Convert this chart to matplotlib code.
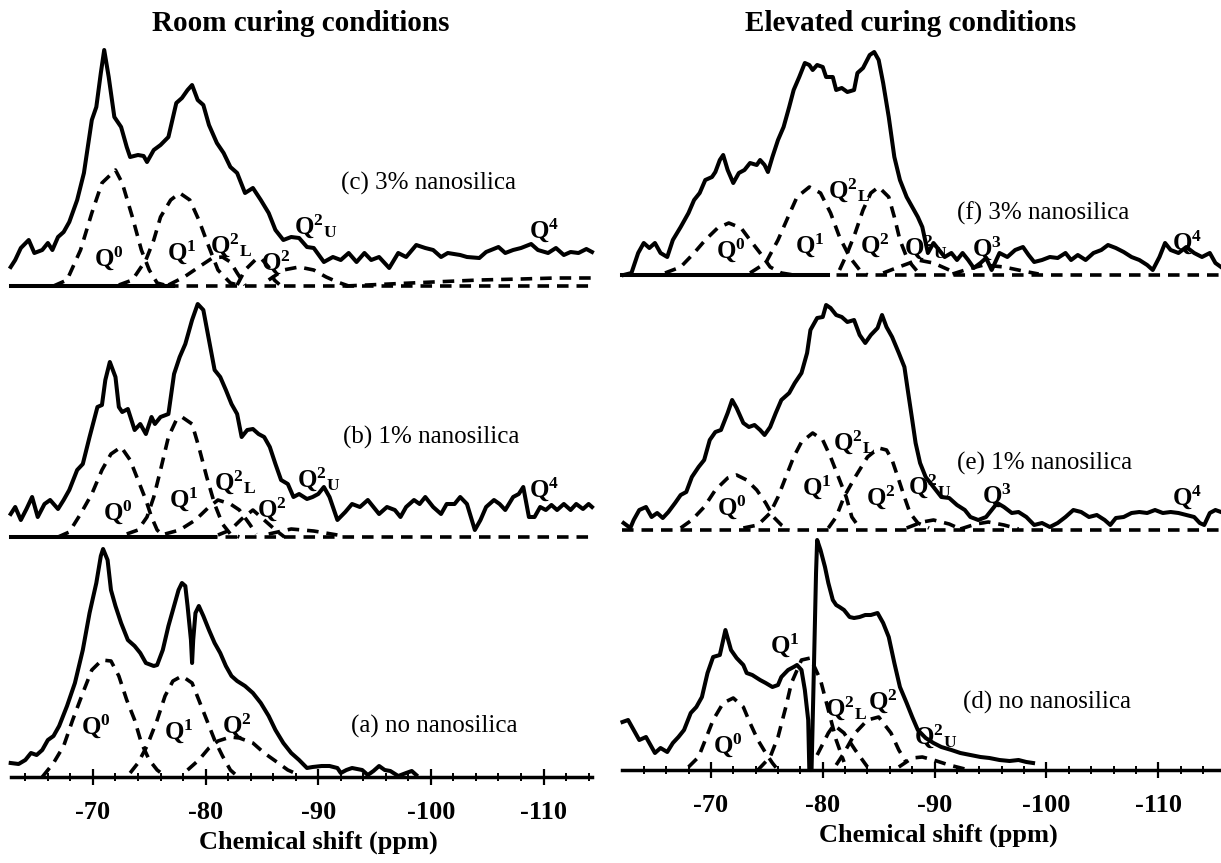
import matplotlib
matplotlib.use("Agg")
from matplotlib import pyplot as plt
from matplotlib.ticker import MultipleLocator

plt.rcParams['font.family'] = ['Liberation Serif', 'DejaVu Serif']
plt.rcParams['mathtext.fontset'] = 'custom'
plt.rcParams['mathtext.rm'] = 'Liberation Serif'
plt.rcParams['mathtext.bf'] = 'Liberation Serif:bold'
plt.rcParams['mathtext.it'] = 'Liberation Serif:italic'
plt.rcParams['axes.unicode_minus'] = False

# ---------------- room curing ----------------
# (c) 3% nanosilica
c_ppm = [-62.7, -63.1, -63.6, -64.3, -64.8, -65.5, -66.0, -66.4, -66.9, -67.4, -67.9, -68.6, -69.2, -69.9,
         -70.3, -70.7, -71.0, -71.4, -71.9, -72.5, -73.0, -73.3, -74.0, -74.5, -74.8, -75.4, -76.0, -76.7,
         -77.4, -77.9, -78.4, -78.8, -79.3, -79.8, -80.3, -81.0, -81.6, -82.2, -82.8, -83.5, -84.2, -84.9,
         -85.6, -86.2, -86.9, -87.6, -88.3, -89.0, -89.6, -90.5, -91.3, -92.0, -92.7, -93.4, -94.1, -94.7,
         -95.4, -96.3, -97.1, -97.8, -98.7, -99.5, -100.2, -100.9, -101.5, -102.6, -103.2, -104.3, -104.9,
         -106.0, -106.6, -107.3, -108.0, -108.9, -109.5, -110.4, -111.1, -111.8, -112.4, -113.1, -113.8, -114.3]
c_int = [19, 26, 38, 46, 33, 36, 43, 36, 49, 54, 64, 86, 113, 166,
         179, 213, 236, 209, 169, 159, 139, 129, 131, 130, 124, 136, 141, 149,
         183, 188, 196, 201, 186, 181, 161, 143, 133, 119, 113, 93, 98, 86,
         73, 56, 46, 49, 48, 39, 38, 24, 29, 26, 33, 24, 33, 26,
         29, 18, 33, 29, 41, 38, 36, 29, 33, 31, 29, 28, 34,
         39, 33, 36, 38, 42, 36, 33, 38, 31, 34, 33, 37, 34]
c_q0 = ([-66.5, -67.7, -68.9, -69.9, -70.8, -72.0, -72.6, -73.5, -74.3, -75.0, -75.7, -76.7],
        [0, 6, 36, 73, 103, 116, 103, 69, 36, 16, 3, 0])
c_q1 = ([-72.3, -73.5, -74.7, -75.4, -76.0, -76.9, -77.7, -78.6, -79.4, -80.3, -81.1, -82.2, -83.2],
        [1, 6, 26, 46, 69, 86, 93, 86, 66, 39, 16, 3, 0])
c_q2l = ([-76.7, -78.1, -79.4, -80.6, -81.5, -82.2, -82.8, -83.5],
         [1, 9, 19, 28, 29, 24, 13, 1])
c_q2 = ([-82.8, -83.5, -84.4, -84.9, -85.6, -86.1, -86.7],
        [1, 16, 26, 28, 19, 6, 0])
c_q2u = ([-85.6, -86.9, -88.3, -89.6, -90.7, -91.7, -92.7],
         [6, 16, 19, 16, 9, 4, 0])
c_q4 = ([-92.4, -96.3, -100.2, -104.3, -108.0, -111.1, -114.3],
        [0, 2, 4, 6, 7, 8, 8])

# (b) 1% nanosilica
b_ppm = [-62.7, -63.1, -63.6, -64.1, -64.6, -65.1, -65.7, -66.2, -66.9, -67.4, -67.9, -68.6, -69.1, -69.7,
         -70.4, -70.8, -71.1, -71.5, -72.0, -72.3, -72.6, -73.1, -73.7, -74.2, -74.7, -75.2, -75.5, -76.0,
         -76.7, -77.2, -77.7, -78.2, -78.8, -79.3, -79.8, -80.3, -80.8, -81.3, -81.8, -82.3, -82.8, -83.2,
         -83.7, -84.2, -84.7, -85.2, -85.7, -86.2, -86.7, -87.3, -87.8, -88.3, -89.0, -89.5, -90.0, -90.5,
         -91.0, -91.7, -92.4, -93.0, -93.7, -94.4, -94.9, -95.4, -96.1, -96.8, -97.3, -97.8, -98.5, -99.0,
         -99.5, -100.2, -100.9, -101.4, -102.1, -102.6, -103.2, -103.9, -104.4, -104.9, -105.6, -106.1,
         -106.6, -107.3, -107.8, -108.2, -108.7, -109.2, -109.7, -110.2, -110.7, -111.2, -111.8, -112.4,
         -112.9, -113.5, -114.0, -114.3]
b_int = [23, 30, 17, 28, 40, 20, 33, 37, 28, 37, 47, 67, 73, 100,
         130, 132, 157, 175, 160, 130, 125, 128, 107, 113, 103, 120, 113, 120,
         123, 163, 180, 193, 217, 233, 227, 197, 167, 160, 147, 133, 123, 100,
         107, 108, 103, 100, 90, 73, 57, 53, 40, 43, 38, 40, 43, 50,
         40, 17, 25, 33, 30, 37, 30, 23, 30, 27, 20, 30, 37, 33,
         40, 30, 23, 33, 33, 40, 33, 7, 17, 30, 37, 33,
         27, 40, 43, 50, 20, 20, 30, 27, 32, 27, 33, 27,
         33, 28, 33, 30]
b_q0 = ([-66.9, -67.9, -68.9, -69.9, -70.8, -71.6, -72.5, -73.3, -74.0, -74.7, -75.2, -75.7, -76.4],
        [0, 5, 23, 43, 67, 83, 90, 77, 57, 37, 20, 7, 0])
b_q1 = ([-73.0, -74.0, -74.8, -75.4, -76.0, -76.7, -77.4, -77.9, -78.8, -79.4, -80.1, -80.8, -81.5, -82.2, -83.0],
        [3, 7, 20, 40, 67, 100, 117, 120, 113, 90, 60, 33, 13, 3, 0])
b_q2l = ([-76.4, -77.7, -79.1, -80.3, -81.1, -82.2, -83.0, -83.9, -84.5],
         [3, 7, 17, 30, 37, 33, 27, 13, 3])
b_q2 = ([-81.1, -82.2, -83.2, -84.2, -85.2, -86.2, -87.0],
        [2, 7, 18, 27, 17, 7, 0])
b_q2u = ([-85.6, -87.6, -89.6, -91.7],
         [3, 8, 6, 2])

# (a) no nanosilica
a_ppm = [-62.7, -63.4, -64.0, -64.5, -65.0, -65.5, -66.0, -66.5, -67.0, -67.7, -68.4, -69.1, -69.7, -70.3,
         -70.7, -70.9, -71.3, -71.6, -72.0, -72.5, -73.1, -73.7, -74.2, -74.7, -75.4, -75.7, -76.2, -76.7,
         -77.2, -77.6, -77.9, -78.2, -78.4, -78.7, -78.8, -78.9, -79.1, -79.4, -79.8, -80.3, -80.8, -81.3,
         -81.8, -82.3, -82.8, -83.5, -84.2, -84.9, -85.6, -86.2, -86.9, -87.6, -88.3, -89.0, -89.5, -90.3,
         -91.0, -91.7, -92.0, -92.5, -93.0, -93.9, -94.4, -94.9, -95.4, -95.9, -96.4, -97.1, -97.8, -98.3,
         -98.7]
a_int = [14, 13, 17, 24, 22, 27, 37, 41, 51, 71, 94, 127, 164, 194,
         221, 228, 217, 187, 171, 154, 137, 131, 124, 114, 111, 112, 127, 151,
         171, 187, 194, 191, 171, 137, 114, 137, 164, 171, 161, 147, 134, 124,
         111, 101, 96, 91, 84, 74, 61, 47, 34, 24, 17, 9, 10, 11,
         11, 9, 4, 7, 9, 7, 2, 6, 11, 7, 6, 1, 4, 6,
         2]
a_q0 = ([-65.5, -66.5, -67.4, -68.2, -69.1, -69.9, -70.8, -71.6, -72.3, -73.0, -73.7, -74.3, -75.0, -75.7, -76.4],
        [0, 14, 31, 57, 84, 107, 117, 116, 101, 77, 57, 34, 17, 7, 1])
a_q1 = ([-73.3, -74.0, -74.8, -75.7, -76.4, -77.1, -77.9, -78.8, -79.4, -80.1, -80.8, -81.5, -82.2, -82.8],
        [4, 14, 31, 57, 81, 96, 101, 94, 77, 57, 37, 21, 7, 1])
a_q2 = ([-78.4, -79.4, -80.3, -81.1, -82.2, -83.0, -84.2, -85.2, -86.2, -87.3, -88.3],
        [7, 17, 29, 36, 40, 39, 34, 24, 16, 7, 2])

# ---------------- elevated curing ----------------
# (f) 3% nanosilica
f_ppm = [-62.2, -62.9, -63.5, -64.0, -64.5, -65.0, -65.5, -66.1, -66.6, -67.3, -68.0, -68.5, -69.0, -69.5,
         -70.1, -70.4, -70.8, -71.1, -71.5, -72.0, -72.5, -73.0, -73.5, -74.1, -74.4, -74.8, -75.1, -75.5,
         -76.0, -76.5, -77.0, -77.4, -77.9, -78.4, -78.8, -79.1, -79.5, -80.0, -80.3, -80.9, -81.2, -81.7,
         -82.2, -82.8, -83.1, -83.6, -84.2, -84.6, -85.0, -85.4, -85.9, -86.4, -86.9, -87.5, -88.0, -88.5,
         -88.9, -89.4, -89.9, -90.4, -90.9, -91.5, -92.0, -92.5, -93.0, -93.5, -94.1, -94.6, -95.1, -95.8,
         -96.5, -97.2, -97.9, -98.4, -98.9, -99.6, -100.3, -101.0, -101.7, -102.2, -102.8, -103.5, -104.2,
         -104.9, -105.5, -106.2, -106.9, -107.6, -108.3, -109.0, -109.5, -110.1, -110.6, -111.1, -111.8,
         -112.5, -113.2, -113.9, -114.6, -115.1, -115.6]
f_int = [0, 2, 22, 32, 27, 32, 22, 18, 35, 48, 62, 75, 82, 95,
         98, 103, 115, 120, 105, 92, 102, 105, 112, 110, 115, 110, 103, 118,
         135, 148, 168, 185, 198, 212, 210, 205, 210, 208, 198, 198, 185, 187,
         183, 185, 202, 207, 220, 223, 215, 192, 158, 118, 95, 78, 68, 58,
         48, 22, 32, 25, 18, 22, 15, 22, 15, 7, 12, 17, 5, 22,
         18, 25, 28, 20, 13, 15, 18, 17, 22, 15, 20, 15, 22,
         25, 30, 27, 23, 18, 15, 10, 5, 18, 32, 25, 22,
         28, 22, 18, 22, 12, 8]
f_q0 = ([-65.9, -67.3, -68.5, -69.5, -70.6, -71.6, -72.7, -73.5, -74.4, -75.3, -76.3, -77.4],
        [2, 8, 22, 35, 47, 52, 47, 35, 22, 8, 2, 0])
f_q1 = ([-73.5, -74.9, -76.0, -76.9, -77.7, -78.8, -79.8, -80.7, -81.5, -82.4, -83.3, -84.0],
        [2, 12, 35, 58, 78, 88, 82, 62, 38, 18, 5, 0])
f_q2 = ([-81.5, -82.2, -82.9, -83.6, -84.3, -85.0, -85.9, -86.4, -86.9, -87.6, -88.5],
        [5, 22, 42, 65, 82, 88, 78, 58, 35, 15, 3])
f_q2u = ([-85.4, -86.8, -88.5, -89.9, -91.3, -92.3],
         [2, 8, 15, 12, 5, 1])
f_q3 = ([-91.6, -93.0, -94.4, -96.2, -97.9, -99.3],
        [1, 6, 10, 8, 4, 1])

# (e) 1% nanosilica
e_ppm = [-62.2, -62.8, -63.1, -63.6, -64.2, -64.7, -65.2, -65.7, -66.2, -66.8, -67.3, -67.8, -68.3, -68.9,
         -69.4, -69.9, -70.4, -70.9, -71.5, -71.9, -72.3, -72.9, -73.4, -73.9, -74.4, -74.8, -75.3, -75.8,
         -76.3, -77.0, -77.5, -78.1, -78.6, -78.9, -79.5, -80.0, -80.3, -80.7, -81.2, -81.7, -82.2, -82.8,
         -83.3, -83.8, -84.3, -84.9, -85.3, -85.7, -86.2, -86.8, -87.3, -87.6, -88.0, -88.3, -88.7, -89.2,
         -89.9, -90.6, -91.3, -92.0, -92.7, -93.2, -93.9, -94.6, -95.1, -95.6, -96.2, -96.9, -97.5, -98.2,
         -98.9, -99.6, -100.3, -101.0, -101.7, -102.4, -103.1, -103.8, -104.5, -105.2, -105.7, -106.2,
         -106.9, -107.6, -108.3, -109.0, -109.7, -110.4, -111.1, -111.8, -112.5, -113.2, -113.7, -114.1,
         -114.6, -115.1, -115.6]
e_int = [7, 2, 10, 20, 23, 13, 17, 12, 18, 27, 35, 38, 53, 63,
         70, 90, 98, 100, 117, 130, 122, 107, 103, 105, 100, 95, 103, 117,
         130, 137, 147, 157, 177, 200, 212, 213, 225, 222, 215, 213, 208, 210,
         195, 187, 195, 202, 215, 203, 193, 177, 163, 140, 110, 87, 67, 53,
         43, 33, 32, 25, 20, 13, 10, 13, 20, 27, 23, 17, 18, 13,
         5, 7, 3, 7, 13, 20, 18, 13, 15, 10, 5, 12,
         13, 17, 18, 17, 20, 17, 18, 17, 15, 13, 7, 5,
         17, 20, 18]
e_q0 = ([-67.3, -68.3, -69.4, -70.4, -71.5, -72.3, -73.2, -74.1, -74.9, -75.6, -76.3, -77.0],
        [2, 10, 23, 40, 52, 55, 50, 40, 27, 13, 5, 0])
e_q1 = ([-72.9, -74.2, -75.3, -76.0, -76.7, -77.4, -78.1, -79.1, -80.0, -80.7, -81.4, -82.1, -82.6, -83.3],
        [2, 5, 17, 33, 53, 73, 88, 97, 90, 73, 53, 33, 13, 2])
e_q2 = ([-80.5, -81.2, -81.9, -82.9, -84.0, -85.0, -85.7, -86.2, -86.8, -87.3, -87.8, -88.5, -89.5],
        [2, 13, 33, 53, 73, 82, 80, 70, 50, 33, 17, 7, 2])
e_q2u = ([-87.5, -88.9, -89.9, -91.3, -92.3],
         [2, 8, 10, 6, 1])
e_q3 = ([-92.3, -93.7, -94.8, -96.2, -97.5],
        [1, 6, 8, 5, 1])

# (d) no nanosilica
d_ppm = [-62.1, -62.6, -63.1, -63.6, -64.2, -64.7, -65.0, -65.5, -66.1, -66.6, -67.1, -67.6, -68.2, -68.7,
         -69.2, -69.7, -70.2, -70.8, -71.3, -71.8, -72.3, -72.9, -73.2, -73.7, -74.4, -74.9, -75.5, -76.0,
         -76.3, -76.9, -77.4, -77.7, -78.1, -78.4, -78.7, -78.8, -79.0, -79.2, -79.4, -79.5, -79.8, -80.2,
         -80.5, -80.9, -81.2, -81.5, -81.9, -82.4, -82.8, -83.3, -83.8, -84.3, -84.9, -85.4, -85.9, -86.4,
         -86.9, -87.5, -88.0, -88.5, -89.2, -89.9, -90.6, -91.5, -92.3, -93.2, -94.1, -94.9, -95.8, -96.7,
         -97.5, -98.2, -98.8]
d_int = [48, 50, 40, 30, 33, 23, 17, 22, 18, 27, 33, 40, 57, 63,
         73, 97, 113, 115, 140, 120, 112, 105, 97, 95, 90, 87, 83, 85,
         93, 100, 103, 105, 100, 80, 50, 0, 0, 97, 197, 230, 220, 203,
         187, 170, 165, 163, 160, 153, 152, 153, 155, 155, 157, 147, 133, 107,
         83, 67, 53, 40, 32, 27, 23, 20, 17, 15, 13, 12, 10, 9,
         10, 8, 7]
d_q0 = ([-68.0, -68.9, -69.5, -70.2, -71.1, -72.0, -72.9, -73.5, -74.2, -74.9, -75.5, -76.0],
        [3, 13, 30, 50, 67, 72, 63, 47, 30, 17, 7, 0])
d_q1 = ([-74.2, -75.3, -76.0, -76.7, -77.2, -78.1, -78.9, -79.8, -80.5, -81.2, -81.9],
        [0, 13, 33, 63, 87, 110, 112, 90, 60, 30, 8])
d_q2l = ([-79.5, -80.5, -81.0, -81.9, -82.9, -84.0],
         [15, 37, 45, 37, 20, 3])
d_q2 = ([-81.2, -81.9, -82.9, -84.0, -85.0, -86.1, -86.8, -87.5],
        [5, 17, 37, 50, 53, 37, 20, 7])
d_q2u = ([-86.8, -88.0, -88.9, -89.9, -91.3, -92.7],
         [3, 12, 13, 10, 5, 1])

Q0 = r'$\mathbf{Q^{0}}$'
Q1 = r'$\mathbf{Q^{1}}$'
Q2 = r'$\mathbf{Q^{2}}$'
Q3 = r'$\mathbf{Q^{3}}$'
Q4 = r'$\mathbf{Q^{4}}$'
Q2L = r'$\mathbf{Q^{2}{}_{L}}$'
Q2U = r'$\mathbf{Q^{2}{}_{U}}$'

DASH = (0, (3.2, 2.2))


def panel(ax, off, ppm, inten, parts, solid_to=None, base=True):
    ax.plot(ppm, [v + off for v in inten], color='black', lw=2.9,
            solid_joinstyle='round', clip_on=False, zorder=3)
    for p, v in parts:
        ax.plot(p, [a + off for a in v], color='black', lw=2.6, ls=DASH,
                clip_on=False, zorder=2)
    if base:
        x0, x1 = ax.get_xlim()
        ax.plot([x0, x1], [off, off], color='black', lw=2.6, ls=DASH, clip_on=False)
        if solid_to is not None:
            ax.plot([x0, solid_to], [off, off], color='black', lw=2.9, clip_on=False)


def labels(ax, off, items):
    for txt, x, y in items:
        ax.text(x, y + off, txt, ha='center', va='center', fontsize=18, zorder=4)


def style_axis(ax, label_x):
    for s in ['left', 'right', 'top']:
        ax.spines[s].set_visible(False)
    ax.spines['bottom'].set_linewidth(2.5)
    ax.set_yticks([])
    ax.xaxis.set_major_locator(MultipleLocator(10))
    ax.xaxis.set_minor_locator(MultipleLocator(2))
    ax.tick_params(axis='x', which='major', direction='inout', length=12, width=1.6,
                   labelsize=19, pad=11)
    ax.tick_params(axis='x', which='minor', direction='inout', length=6, width=1.4)
    for t in ax.get_xticklabels():
        t.set_fontweight('bold')
    ax.set_xlabel('Chemical shift (ppm)', fontsize=19, fontweight='bold', labelpad=5)
    ax.xaxis.label.set_x(label_x)
    ax.set_facecolor('none')


fig = plt.figure(figsize=(12.21, 8.63), dpi=100)

# left column: room curing
axL = fig.add_axes([10.7 / 1221, (863 - 777) / 863, 581.3 / 1221, 737 / 863])
axL.set_xlim(-62.7, -114.3)
axL.set_ylim(0, 737)
style_axis(axL, 0.529)

panel(axL, 491, c_ppm, c_int, [c_q0, c_q1, c_q2l, c_q2, c_q2u, c_q4], solid_to=-77.1)
panel(axL, 240, b_ppm, b_int, [b_q0, b_q1, b_q2l, b_q2, b_q2u], solid_to=-80.8)
panel(axL, 0, a_ppm, a_int, [a_q0, a_q1, a_q2], base=False)

labels(axL, 491, [(Q0, -71.4, 28), (Q1, -77.9, 34), (Q2L, -82.3, 41), (Q2, -86.2, 24),
                  (Q2U, -89.8, 60), (Q4, -110.0, 56)])
labels(axL, 240, [(Q0, -72.2, 25), (Q1, -78.1, 38), (Q2L, -82.6, 55), (Q2, -85.9, 28),
                  (Q2U, -90.0, 58), (Q4, -110.0, 48)])
labels(axL, 0, [(Q0, -70.3, 51), (Q1, -77.6, 46), (Q2, -82.8, 52)])

axL.text(-92.0, 491 + 103, '(c) 3% nanosilica', fontsize=18, va='center', ha='left')
axL.text(-92.2, 240 + 100, '(b) 1% nanosilica', fontsize=18, va='center', ha='left')
axL.text(-92.9, 51, '(a) no nanosilica', fontsize=18, va='center', ha='left')

# right column: elevated curing
axR = fig.add_axes([622.5 / 1221, (863 - 770) / 863, 598.5 / 1221, 730 / 863])
axR.set_xlim(-62.1, -115.6)
axR.set_ylim(0, 730)
style_axis(axR, 0.527)

panel(axR, 495, f_ppm, f_int, [f_q0, f_q1, f_q2, f_q2u, f_q3], solid_to=-80.5)
panel(axR, 240, e_ppm, e_int, [e_q0, e_q1, e_q2, e_q2u, e_q3])
panel(axR, 0, d_ppm, d_int, [d_q0, d_q1, d_q2l, d_q2, d_q2u], base=False)

labels(axR, 495, [(Q0, -71.8, 25), (Q1, -78.8, 30), (Q2L, -82.4, 85), (Q2, -84.7, 30),
                  (Q2U, -89.2, 28), (Q3, -94.7, 27), (Q4, -112.6, 33)])
labels(axR, 240, [(Q0, -71.9, 23), (Q1, -79.5, 43), (Q2L, -82.8, 88), (Q2, -85.2, 33),
                  (Q2U, -89.6, 44), (Q3, -95.6, 35), (Q4, -112.6, 33)])
labels(axR, 0, [(Q0, -71.5, 25), (Q1, -76.6, 125), (Q2L, -82.1, 62), (Q2, -85.4, 69),
                (Q2U, -90.1, 34)])

axR.text(-92.0, 495 + 62, '(f) 3% nanosilica', fontsize=18, va='center', ha='left')
axR.text(-92.0, 240 + 67, '(e) 1% nanosilica', fontsize=18, va='center', ha='left')
axR.text(-92.5, 68, '(d) no nanosilica', fontsize=18, va='center', ha='left')

fig.text(301 / 1221, 1 - 31 / 863, 'Room curing conditions', ha='center', va='baseline',
         fontsize=21, fontweight='bold')
fig.text(911 / 1221, 1 - 31 / 863, 'Elevated curing conditions', ha='center', va='baseline',
         fontsize=21, fontweight='bold')

fig.savefig('out.png', dpi=100)
